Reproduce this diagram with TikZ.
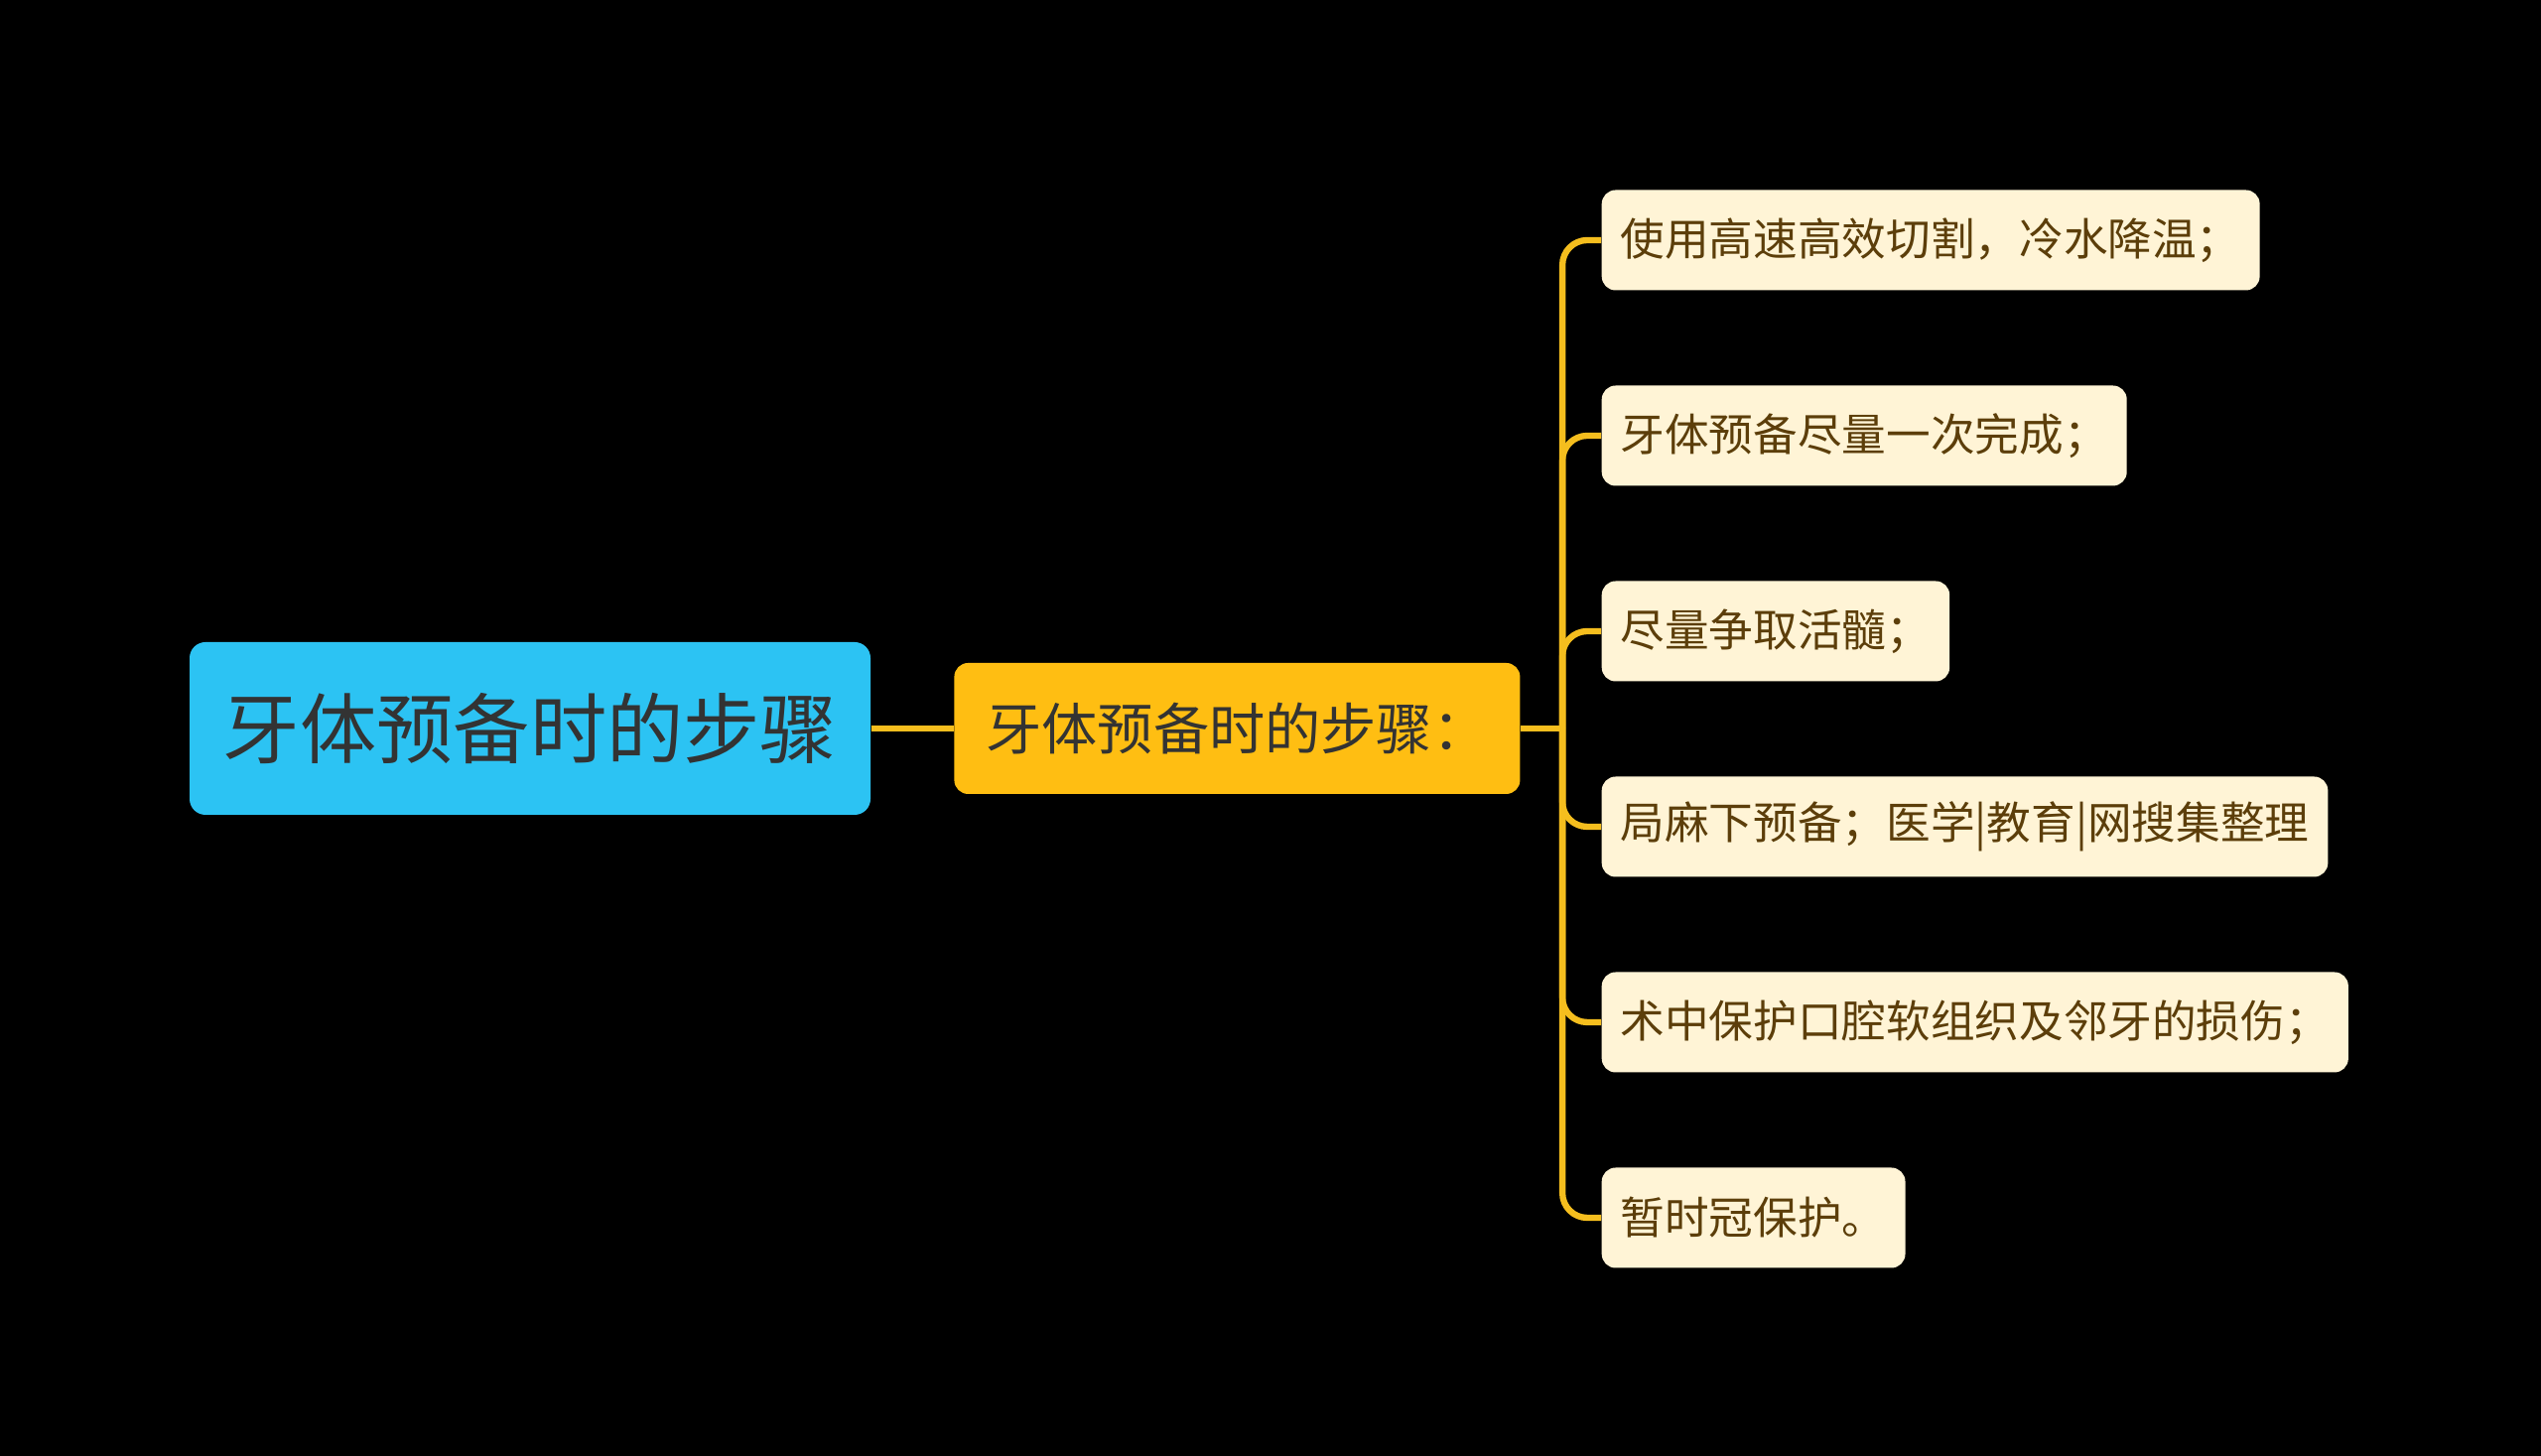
\documentclass[tikz,border=0pt]{standalone}
\usepackage{fontspec}
\setmainfont{Noto Sans CJK SC}
\usepackage{tikz}
\usetikzlibrary{positioning, calc}
\definecolor{rootblue}{RGB}{44, 195, 243}
\definecolor{midgold}{RGB}{255, 190, 18}
\definecolor{leafcream}{RGB}{255, 244, 214}
\definecolor{leaftext}{RGB}{92, 62, 10}
\definecolor{linegold}{RGB}{245, 190, 30}
\definecolor{darktext}{RGB}{51, 51, 51}

\begin{document}
\begin{tikzpicture}[
  root/.style={rectangle, rounded corners=0.16cm, fill=rootblue, text=darktext,
               minimum width=6.86cm, minimum height=1.74cm, align=center,
               font=\fontsize{22}{26}\selectfont},
  mid/.style={rectangle, rounded corners=0.14cm, fill=midgold, text=darktext,
              minimum width=5.70cm, minimum height=1.32cm, align=center,
              font=\fontsize{16}{19}\selectfont},
  leaf/.style={rectangle, rounded corners=0.14cm, fill=leafcream, text=leaftext,
               inner xsep=0.19cm, minimum height=1.01cm,
               font=\fontsize{12.7}{15}\selectfont},
  branch/.style={line width=1.8pt, linegold, rounded corners=0.25cm}
]
  % background and page size
  \fill[black] (0,0) rectangle (25.6,14.67);
  \useasboundingbox (0,0) rectangle (25.6,14.67);

  \node[root] (root) at (5.34,7.33) {牙体预备时的步骤};
  \node[mid, right=0.83cm of root] (steps) {牙体预备时的步骤：};
  \coordinate (hub) at ($(steps.east)+(0.42,0)$);

  \node[leaf, anchor=west] (cut) at (16.13,12.25) {使用高速高效切割，冷水降温；};
  \node[leaf, below=1.97cm of cut.west, anchor=west] (once) {牙体预备尽量一次完成；};
  \node[leaf, below=1.97cm of once.west, anchor=west] (pulp) {尽量争取活髓；};
  \node[leaf, below=1.97cm of pulp.west, anchor=west] (anes) {局麻下预备；医学|教育|网搜集整理};
  \node[leaf, below=1.97cm of anes.west, anchor=west] (soft) {术中保护口腔软组织及邻牙的损伤；};
  \node[leaf, below=1.97cm of soft.west, anchor=west] (crown) {暂时冠保护。};

  \draw[branch] (root) -- (steps);
  \draw[branch] (steps.east) -- (hub);
  \draw[branch] (hub) |- (cut.west);
  \draw[branch] (hub) |- (once.west);
  \draw[branch] (hub) |- (pulp.west);
  \draw[branch] (hub) |- (anes.west);
  \draw[branch] (hub) |- (soft.west);
  \draw[branch] (hub) |- (crown.west);
\end{tikzpicture}
\end{document}
